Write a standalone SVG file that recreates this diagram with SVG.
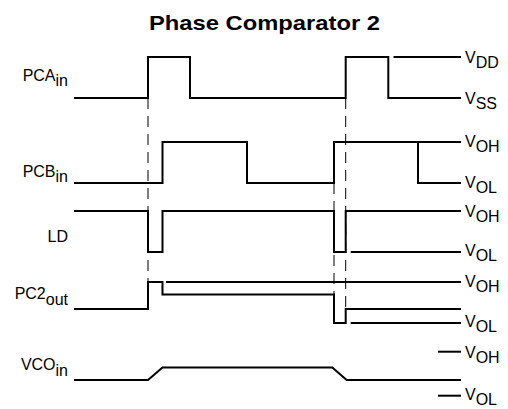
<svg xmlns="http://www.w3.org/2000/svg" width="508" height="409" viewBox="0 0 508 409">
<style>
  .sig { fill: none; stroke: #000; stroke-width: 2; stroke-linejoin: miter; stroke-linecap: butt; }
  .dash { fill: none; stroke: #000; stroke-width: 1; stroke-dasharray: 11 7; }
  .lbl { font-family: "Liberation Sans", Arial, sans-serif; font-size: 16px; fill: #000; }
  .title { font-family: "Liberation Sans", Arial, sans-serif; font-size: 21px; font-weight: bold; fill: #000; }
</style>
<rect width="508" height="409" fill="#fff"/>
<text class="title" x="149" y="30" textLength="231" lengthAdjust="spacingAndGlyphs">Phase Comparator 2</text>

<g id="connectors">
  <line class="dash" x1="148" y1="98" x2="148" y2="282"/>
  <line class="dash" x1="334" y1="183" x2="334" y2="294"/>
  <line class="dash" x1="345.7" y1="98" x2="345.7" y2="309"/>
</g>

<g id="PCAin">
  <text class="lbl" x="68" y="81" text-anchor="end">PCA<tspan dy="5">in</tspan></text>
  <path class="sig" d="M74,98 H148 V57 H190 V98 H345.7 V57 H388.3 V98 H461"/>
  <line class="sig" x1="393.5" y1="57" x2="461" y2="57"/>
  <text class="lbl" x="465" y="63">V<tspan dy="5">DD</tspan></text>
  <text class="lbl" x="465" y="104">V<tspan dy="5">SS</tspan></text>
</g>

<g id="PCBin">
  <text class="lbl" x="68" y="177" text-anchor="end">PCB<tspan dy="5">in</tspan></text>
  <path class="sig" d="M74,183 H162.5 V142 H247 V183 H334 V142 H461"/>
  <path class="sig" d="M418,142 V183 H461"/>
  <text class="lbl" x="465" y="147">V<tspan dy="5">OH</tspan></text>
  <text class="lbl" x="465" y="188">V<tspan dy="5">OL</tspan></text>
</g>

<g id="LD">
  <text class="lbl" x="68" y="242" text-anchor="end">LD</text>
  <path class="sig" d="M74,211 H148 V252 H162.5 V211 H334 V252 H345.7 V211 H461"/>
  <line class="sig" x1="350.7" y1="252" x2="461" y2="252"/>
  <text class="lbl" x="465" y="216.5">V<tspan dy="5">OH</tspan></text>
  <text class="lbl" x="465" y="256">V<tspan dy="5">OL</tspan></text>
</g>

<g id="PC2out">
  <text class="lbl" x="68" y="298.5" text-anchor="end">PC2<tspan dy="6">out</tspan></text>
  <path class="sig" d="M74,309 H148 V282 H162.5 V294.5 H334 V323 H345.7 V309 H461"/>
  <line class="sig" x1="166" y1="282" x2="461" y2="282"/>
  <line class="sig" x1="350.7" y1="323" x2="461" y2="323"/>
  <text class="lbl" x="465" y="287">V<tspan dy="5">OH</tspan></text>
  <text class="lbl" x="465" y="327">V<tspan dy="5">OL</tspan></text>
</g>

<g id="VCOin">
  <text class="lbl" x="68" y="369.5" text-anchor="end">VCO<tspan dy="6">in</tspan></text>
  <path class="sig" d="M74,380 H148 L162.5,367.5 H332.3 L346.7,380 H461"/>
  <line class="sig" x1="438" y1="351.7" x2="461" y2="351.7"/>
  <line class="sig" x1="438" y1="395.7" x2="461" y2="395.7"/>
  <text class="lbl" x="465" y="358">V<tspan dy="5">OH</tspan></text>
  <text class="lbl" x="465" y="400">V<tspan dy="5">OL</tspan></text>
</g>
</svg>
